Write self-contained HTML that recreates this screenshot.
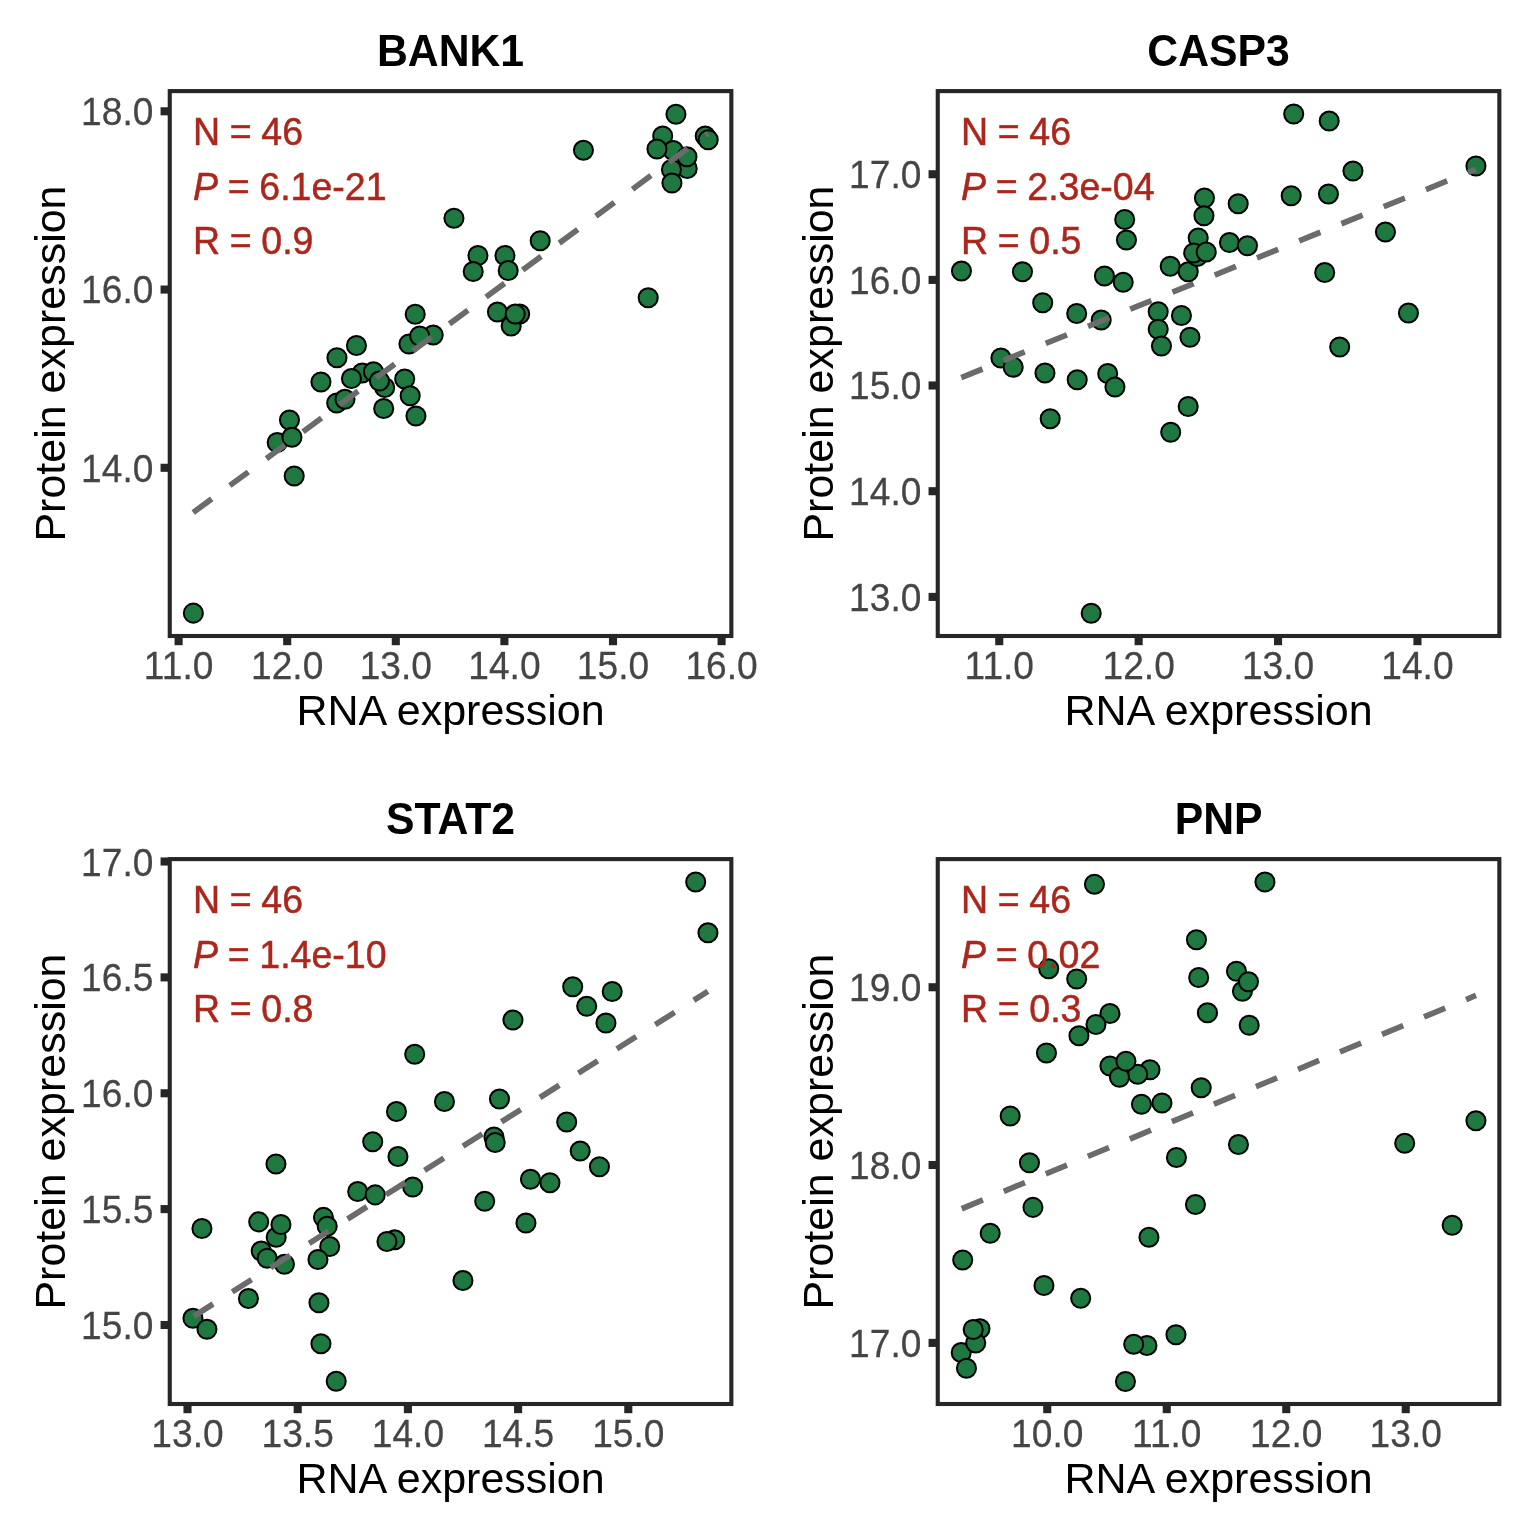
<!DOCTYPE html>
<html lang="en"><head><meta charset="utf-8"><title>RNA vs protein expression</title>
<style>
html,body{margin:0;padding:0;background:#fff;}
body{width:1536px;height:1536px;overflow:hidden;}
svg{display:block;font-family:"Liberation Sans",sans-serif;}
.tk{font-size:39.1px;fill:#454545;stroke:#454545;stroke-width:0.25px;}
.ax{font-size:43.0px;fill:#000;}
.ti{font-size:44.5px;font-weight:bold;fill:#000;}
.an{font-size:39.1px;fill:#ab271c;stroke:#ab271c;stroke-width:0.5px;word-spacing:-0.8px;}
.pt{fill:#1e7840;stroke:#000;stroke-width:2.0;}
.fit{stroke:#6b6b6b;stroke-width:5.7;fill:none;}
.fr{fill:none;stroke:#262626;stroke-width:4.1;}
.tick{stroke:#262626;stroke-width:8.1;}
</style></head><body>
<svg width="1536" height="1536" viewBox="0 0 1536 1536">
<rect width="1536" height="1536" fill="#ffffff"/>
<g>
<g class="pt">
<circle cx="193.35" cy="613.15" r="9.55"/>
<circle cx="277.2" cy="442.45" r="9.55"/>
<circle cx="289.45" cy="419.95" r="9.55"/>
<circle cx="291.95" cy="437.2" r="9.55"/>
<circle cx="294.2" cy="475.95" r="9.55"/>
<circle cx="320.95" cy="381.95" r="9.55"/>
<circle cx="336.7" cy="402.95" r="9.55"/>
<circle cx="336.95" cy="357.7" r="9.55"/>
<circle cx="344.95" cy="399.2" r="9.55"/>
<circle cx="356.45" cy="345.45" r="9.55"/>
<circle cx="362.2" cy="372.95" r="9.55"/>
<circle cx="351.45" cy="378.45" r="9.55"/>
<circle cx="373.45" cy="371.7" r="9.55"/>
<circle cx="384.7" cy="387.45" r="9.55"/>
<circle cx="379.45" cy="380.95" r="9.55"/>
<circle cx="383.7" cy="408.45" r="9.55"/>
<circle cx="404.7" cy="378.95" r="9.55"/>
<circle cx="410.2" cy="395.7" r="9.55"/>
<circle cx="415.95" cy="415.95" r="9.55"/>
<circle cx="408.95" cy="343.95" r="9.55"/>
<circle cx="433.2" cy="334.95" r="9.55"/>
<circle cx="419.7" cy="335.95" r="9.55"/>
<circle cx="415.2" cy="314.2" r="9.55"/>
<circle cx="453.95" cy="218.2" r="9.55"/>
<circle cx="477.95" cy="255.45" r="9.55"/>
<circle cx="473.2" cy="271.45" r="9.55"/>
<circle cx="504.95" cy="255.45" r="9.55"/>
<circle cx="508.2" cy="270.45" r="9.55"/>
<circle cx="540.2" cy="240.7" r="9.55"/>
<circle cx="497.45" cy="311.95" r="9.55"/>
<circle cx="511.2" cy="325.95" r="9.55"/>
<circle cx="519.7" cy="313.95" r="9.55"/>
<circle cx="515.2" cy="313.95" r="9.55"/>
<circle cx="583.45" cy="150.2" r="9.55"/>
<circle cx="648.2" cy="297.7" r="9.55"/>
<circle cx="675.95" cy="114.2" r="9.55"/>
<circle cx="662.7" cy="135.95" r="9.55"/>
<circle cx="673.2" cy="150.45" r="9.55"/>
<circle cx="656.95" cy="148.95" r="9.55"/>
<circle cx="687.2" cy="168.45" r="9.55"/>
<circle cx="686.95" cy="156.7" r="9.55"/>
<circle cx="671.45" cy="169.45" r="9.55"/>
<circle cx="671.95" cy="182.95" r="9.55"/>
<circle cx="705.2" cy="135.95" r="9.55"/>
<circle cx="708.2" cy="139.7" r="9.55"/>
</g>
<line class="fit" stroke-dasharray="23.0 22.45" x1="193.2" y1="512.5" x2="708" y2="133.6"/>
<text class="an" transform="translate(193 144.5) scale(0.96 1)">N = 46</text>
<text class="an" transform="translate(193 199.9) scale(0.96 1)"><tspan font-style="italic">P</tspan> = 6.1e-21</text>
<text class="an" transform="translate(193 254.3) scale(0.96 1)">R = 0.9</text>
<rect class="fr" x="169.75" y="91.1" width="561.6" height="544.9"/>
<g class="tick">
<line x1="178.6" y1="636" x2="178.6" y2="645.2"/>
<line x1="287.2" y1="636" x2="287.2" y2="645.2"/>
<line x1="395.8" y1="636" x2="395.8" y2="645.2"/>
<line x1="504.4" y1="636" x2="504.4" y2="645.2"/>
<line x1="613" y1="636" x2="613" y2="645.2"/>
<line x1="721.6" y1="636" x2="721.6" y2="645.2"/>
<line x1="160.55" y1="111.3" x2="169.75" y2="111.3"/>
<line x1="160.55" y1="289.55" x2="169.75" y2="289.55"/>
<line x1="160.55" y1="467.8" x2="169.75" y2="467.8"/>
</g>
<g>
<text class="tk" transform="translate(178.6 678.6) scale(0.95 1)" text-anchor="middle">11.0</text>
<text class="tk" transform="translate(287.2 678.6) scale(0.95 1)" text-anchor="middle">12.0</text>
<text class="tk" transform="translate(395.8 678.6) scale(0.95 1)" text-anchor="middle">13.0</text>
<text class="tk" transform="translate(504.4 678.6) scale(0.95 1)" text-anchor="middle">14.0</text>
<text class="tk" transform="translate(613 678.6) scale(0.95 1)" text-anchor="middle">15.0</text>
<text class="tk" transform="translate(721.6 678.6) scale(0.95 1)" text-anchor="middle">16.0</text>
<text class="tk" transform="translate(153.4 125) scale(0.95 1)" text-anchor="end">18.0</text>
<text class="tk" transform="translate(153.4 302.85) scale(0.95 1)" text-anchor="end">16.0</text>
<text class="tk" transform="translate(153.4 481.5) scale(0.95 1)" text-anchor="end">14.0</text>
</g>
<text class="ti" transform="translate(450.55 65.8) scale(0.96 1)" text-anchor="middle">BANK1</text>
<text class="ax" transform="translate(450.55 724.5)" text-anchor="middle">RNA expression</text>
<text class="ax" transform="translate(65 363.55) rotate(-90)" text-anchor="middle">Protein expression</text>
</g>
<g>
<g class="pt">
<circle cx="961.45" cy="270.95" r="9.55"/>
<circle cx="1022.45" cy="271.7" r="9.55"/>
<circle cx="1042.7" cy="302.7" r="9.55"/>
<circle cx="1076.7" cy="313.45" r="9.55"/>
<circle cx="1101.2" cy="319.95" r="9.55"/>
<circle cx="1104.45" cy="275.95" r="9.55"/>
<circle cx="1123.2" cy="282.2" r="9.55"/>
<circle cx="1124.7" cy="219.45" r="9.55"/>
<circle cx="1126.45" cy="239.95" r="9.55"/>
<circle cx="1000.95" cy="357.95" r="9.55"/>
<circle cx="1013.2" cy="367.2" r="9.55"/>
<circle cx="1044.95" cy="372.95" r="9.55"/>
<circle cx="1077.2" cy="379.7" r="9.55"/>
<circle cx="1107.7" cy="373.45" r="9.55"/>
<circle cx="1114.95" cy="386.95" r="9.55"/>
<circle cx="1050.2" cy="418.7" r="9.55"/>
<circle cx="1158.2" cy="311.7" r="9.55"/>
<circle cx="1158.2" cy="329.2" r="9.55"/>
<circle cx="1161.45" cy="345.95" r="9.55"/>
<circle cx="1181.45" cy="315.45" r="9.55"/>
<circle cx="1189.95" cy="337.2" r="9.55"/>
<circle cx="1170.2" cy="266.2" r="9.55"/>
<circle cx="1188.2" cy="271.7" r="9.55"/>
<circle cx="1198.2" cy="237.95" r="9.55"/>
<circle cx="1197.2" cy="256.45" r="9.55"/>
<circle cx="1193.7" cy="252.95" r="9.55"/>
<circle cx="1206.2" cy="251.95" r="9.55"/>
<circle cx="1204.45" cy="197.95" r="9.55"/>
<circle cx="1203.95" cy="215.7" r="9.55"/>
<circle cx="1238.2" cy="203.7" r="9.55"/>
<circle cx="1229.45" cy="242.45" r="9.55"/>
<circle cx="1247.45" cy="245.7" r="9.55"/>
<circle cx="1293.7" cy="113.95" r="9.55"/>
<circle cx="1291.2" cy="195.7" r="9.55"/>
<circle cx="1188.2" cy="406.45" r="9.55"/>
<circle cx="1170.7" cy="432.2" r="9.55"/>
<circle cx="1329.2" cy="120.95" r="9.55"/>
<circle cx="1352.95" cy="170.95" r="9.55"/>
<circle cx="1475.95" cy="165.95" r="9.55"/>
<circle cx="1328.45" cy="193.95" r="9.55"/>
<circle cx="1385.45" cy="231.95" r="9.55"/>
<circle cx="1324.7" cy="272.45" r="9.55"/>
<circle cx="1408.45" cy="312.95" r="9.55"/>
<circle cx="1339.7" cy="346.95" r="9.55"/>
<circle cx="1091.2" cy="613.2" r="9.55"/>
</g>
<line class="fit" stroke-dasharray="22.9 22.67" x1="961.25" y1="377.6" x2="1475.75" y2="169.4"/>
<text class="an" transform="translate(961 144.5) scale(0.96 1)">N = 46</text>
<text class="an" transform="translate(961 199.9) scale(0.96 1)"><tspan font-style="italic">P</tspan> = 2.3e-04</text>
<text class="an" transform="translate(961 254.3) scale(0.96 1)">R = 0.5</text>
<rect class="fr" x="937.75" y="91.1" width="561.6" height="544.9"/>
<g class="tick">
<line x1="999.25" y1="636" x2="999.25" y2="645.2"/>
<line x1="1138.65" y1="636" x2="1138.65" y2="645.2"/>
<line x1="1278.05" y1="636" x2="1278.05" y2="645.2"/>
<line x1="1417.45" y1="636" x2="1417.45" y2="645.2"/>
<line x1="928.55" y1="174.25" x2="937.75" y2="174.25"/>
<line x1="928.55" y1="279.9" x2="937.75" y2="279.9"/>
<line x1="928.55" y1="385.5" x2="937.75" y2="385.5"/>
<line x1="928.55" y1="491.2" x2="937.75" y2="491.2"/>
<line x1="928.55" y1="596.9" x2="937.75" y2="596.9"/>
</g>
<g>
<text class="tk" transform="translate(999.25 678.6) scale(0.95 1)" text-anchor="middle">11.0</text>
<text class="tk" transform="translate(1138.65 678.6) scale(0.95 1)" text-anchor="middle">12.0</text>
<text class="tk" transform="translate(1278.05 678.6) scale(0.95 1)" text-anchor="middle">13.0</text>
<text class="tk" transform="translate(1417.45 678.6) scale(0.95 1)" text-anchor="middle">14.0</text>
<text class="tk" transform="translate(921.4 187.95) scale(0.95 1)" text-anchor="end">17.0</text>
<text class="tk" transform="translate(921.4 293.6) scale(0.95 1)" text-anchor="end">16.0</text>
<text class="tk" transform="translate(921.4 399.2) scale(0.95 1)" text-anchor="end">15.0</text>
<text class="tk" transform="translate(921.4 504.9) scale(0.95 1)" text-anchor="end">14.0</text>
<text class="tk" transform="translate(921.4 610.6) scale(0.95 1)" text-anchor="end">13.0</text>
</g>
<text class="ti" transform="translate(1218.55 65.8) scale(0.96 1)" text-anchor="middle">CASP3</text>
<text class="ax" transform="translate(1218.55 724.5)" text-anchor="middle">RNA expression</text>
<text class="ax" transform="translate(833 363.55) rotate(-90)" text-anchor="middle">Protein expression</text>
</g>
<g>
<g class="pt">
<circle cx="512.95" cy="1019.95" r="9.55"/>
<circle cx="414.7" cy="1054.2" r="9.55"/>
<circle cx="444.45" cy="1101.45" r="9.55"/>
<circle cx="499.45" cy="1098.95" r="9.55"/>
<circle cx="396.45" cy="1111.45" r="9.55"/>
<circle cx="372.7" cy="1141.7" r="9.55"/>
<circle cx="397.95" cy="1156.55" r="9.55"/>
<circle cx="275.95" cy="1164.05" r="9.55"/>
<circle cx="493.95" cy="1136.95" r="9.55"/>
<circle cx="495.2" cy="1142.45" r="9.55"/>
<circle cx="412.7" cy="1187.05" r="9.55"/>
<circle cx="357.7" cy="1191.55" r="9.55"/>
<circle cx="375.2" cy="1194.85" r="9.55"/>
<circle cx="484.7" cy="1201.2" r="9.55"/>
<circle cx="530.45" cy="1179.2" r="9.55"/>
<circle cx="525.95" cy="1222.95" r="9.55"/>
<circle cx="201.95" cy="1228.55" r="9.55"/>
<circle cx="258.7" cy="1221.85" r="9.55"/>
<circle cx="276.2" cy="1237.2" r="9.55"/>
<circle cx="280.95" cy="1224.45" r="9.55"/>
<circle cx="323.45" cy="1217.35" r="9.55"/>
<circle cx="327.2" cy="1226.2" r="9.55"/>
<circle cx="261.2" cy="1250.95" r="9.55"/>
<circle cx="267.2" cy="1258.2" r="9.55"/>
<circle cx="284.45" cy="1264.2" r="9.55"/>
<circle cx="329.7" cy="1246.45" r="9.55"/>
<circle cx="317.95" cy="1259.45" r="9.55"/>
<circle cx="394.7" cy="1239.7" r="9.55"/>
<circle cx="386.95" cy="1241.45" r="9.55"/>
<circle cx="462.95" cy="1280.45" r="9.55"/>
<circle cx="248.45" cy="1298.45" r="9.55"/>
<circle cx="318.95" cy="1302.7" r="9.55"/>
<circle cx="192.95" cy="1318.2" r="9.55"/>
<circle cx="206.95" cy="1329.2" r="9.55"/>
<circle cx="320.95" cy="1343.7" r="9.55"/>
<circle cx="336.2" cy="1381.2" r="9.55"/>
<circle cx="549.95" cy="1182.7" r="9.55"/>
<circle cx="695.7" cy="881.95" r="9.55"/>
<circle cx="707.95" cy="932.7" r="9.55"/>
<circle cx="572.7" cy="986.7" r="9.55"/>
<circle cx="612.2" cy="991.45" r="9.55"/>
<circle cx="586.7" cy="1006.2" r="9.55"/>
<circle cx="605.95" cy="1022.95" r="9.55"/>
<circle cx="566.7" cy="1121.95" r="9.55"/>
<circle cx="580.2" cy="1150.95" r="9.55"/>
<circle cx="599.45" cy="1166.7" r="9.55"/>
</g>
<line class="fit" stroke-dasharray="22.9 22.6" x1="193.75" y1="1316.25" x2="707.9" y2="991.3"/>
<text class="an" transform="translate(193 912.5) scale(0.96 1)">N = 46</text>
<text class="an" transform="translate(193 967.9) scale(0.96 1)"><tspan font-style="italic">P</tspan> = 1.4e-10</text>
<text class="an" transform="translate(193 1022.3) scale(0.96 1)">R = 0.8</text>
<rect class="fr" x="169.75" y="859.1" width="561.6" height="544.9"/>
<g class="tick">
<line x1="187.5" y1="1404" x2="187.5" y2="1413.2"/>
<line x1="297.7" y1="1404" x2="297.7" y2="1413.2"/>
<line x1="407.9" y1="1404" x2="407.9" y2="1413.2"/>
<line x1="518.1" y1="1404" x2="518.1" y2="1413.2"/>
<line x1="628.3" y1="1404" x2="628.3" y2="1413.2"/>
<line x1="160.55" y1="861.5" x2="169.75" y2="861.5"/>
<line x1="160.55" y1="977.4" x2="169.75" y2="977.4"/>
<line x1="160.55" y1="1093.28" x2="169.75" y2="1093.28"/>
<line x1="160.55" y1="1209.1" x2="169.75" y2="1209.1"/>
<line x1="160.55" y1="1325" x2="169.75" y2="1325"/>
</g>
<g>
<text class="tk" transform="translate(187.5 1446.6) scale(0.95 1)" text-anchor="middle">13.0</text>
<text class="tk" transform="translate(297.7 1446.6) scale(0.95 1)" text-anchor="middle">13.5</text>
<text class="tk" transform="translate(407.9 1446.6) scale(0.95 1)" text-anchor="middle">14.0</text>
<text class="tk" transform="translate(518.1 1446.6) scale(0.95 1)" text-anchor="middle">14.5</text>
<text class="tk" transform="translate(628.3 1446.6) scale(0.95 1)" text-anchor="middle">15.0</text>
<text class="tk" transform="translate(153.4 876.1) scale(0.95 1)" text-anchor="end">17.0</text>
<text class="tk" transform="translate(153.4 991.1) scale(0.95 1)" text-anchor="end">16.5</text>
<text class="tk" transform="translate(153.4 1106.98) scale(0.95 1)" text-anchor="end">16.0</text>
<text class="tk" transform="translate(153.4 1222.8) scale(0.95 1)" text-anchor="end">15.5</text>
<text class="tk" transform="translate(153.4 1338.7) scale(0.95 1)" text-anchor="end">15.0</text>
</g>
<text class="ti" transform="translate(450.55 833.8) scale(0.96 1)" text-anchor="middle">STAT2</text>
<text class="ax" transform="translate(450.55 1492.5)" text-anchor="middle">RNA expression</text>
<text class="ax" transform="translate(65 1131.55) rotate(-90)" text-anchor="middle">Protein expression</text>
</g>
<g>
<g class="pt">
<circle cx="1094.45" cy="884.2" r="9.55"/>
<circle cx="1264.95" cy="881.95" r="9.55"/>
<circle cx="1196.45" cy="939.7" r="9.55"/>
<circle cx="1048.7" cy="968.7" r="9.55"/>
<circle cx="1076.7" cy="978.95" r="9.55"/>
<circle cx="1198.7" cy="977.45" r="9.55"/>
<circle cx="1236.45" cy="971.2" r="9.55"/>
<circle cx="1242.45" cy="991.2" r="9.55"/>
<circle cx="1248.45" cy="981.7" r="9.55"/>
<circle cx="1207.45" cy="1012.7" r="9.55"/>
<circle cx="1249.2" cy="1025.2" r="9.55"/>
<circle cx="1109.95" cy="1013.45" r="9.55"/>
<circle cx="1078.95" cy="1035.7" r="9.55"/>
<circle cx="1095.95" cy="1024.45" r="9.55"/>
<circle cx="1046.45" cy="1052.95" r="9.55"/>
<circle cx="1109.95" cy="1065.95" r="9.55"/>
<circle cx="1149.95" cy="1069.7" r="9.55"/>
<circle cx="1137.7" cy="1074.2" r="9.55"/>
<circle cx="1119.45" cy="1077.2" r="9.55"/>
<circle cx="1125.95" cy="1061.2" r="9.55"/>
<circle cx="1141.45" cy="1104.2" r="9.55"/>
<circle cx="1161.95" cy="1102.95" r="9.55"/>
<circle cx="1201.2" cy="1087.7" r="9.55"/>
<circle cx="1010.2" cy="1115.95" r="9.55"/>
<circle cx="1029.45" cy="1162.7" r="9.55"/>
<circle cx="1176.45" cy="1157.45" r="9.55"/>
<circle cx="1238.45" cy="1144.45" r="9.55"/>
<circle cx="1032.95" cy="1207.35" r="9.55"/>
<circle cx="1195.45" cy="1204.55" r="9.55"/>
<circle cx="990.2" cy="1233.2" r="9.55"/>
<circle cx="1148.95" cy="1237.2" r="9.55"/>
<circle cx="962.7" cy="1259.95" r="9.55"/>
<circle cx="1043.95" cy="1285.45" r="9.55"/>
<circle cx="1080.7" cy="1298.2" r="9.55"/>
<circle cx="979.95" cy="1328.7" r="9.55"/>
<circle cx="961.2" cy="1352.45" r="9.55"/>
<circle cx="975.7" cy="1342.95" r="9.55"/>
<circle cx="973.2" cy="1329.45" r="9.55"/>
<circle cx="966.45" cy="1368.2" r="9.55"/>
<circle cx="1146.95" cy="1345.45" r="9.55"/>
<circle cx="1133.7" cy="1344.2" r="9.55"/>
<circle cx="1175.95" cy="1334.7" r="9.55"/>
<circle cx="1125.45" cy="1381.45" r="9.55"/>
<circle cx="1475.95" cy="1120.7" r="9.55"/>
<circle cx="1404.7" cy="1143.2" r="9.55"/>
<circle cx="1452.2" cy="1225.2" r="9.55"/>
</g>
<line class="fit" stroke-dasharray="22.9 22.6" x1="961.75" y1="1208.75" x2="1476" y2="995.4"/>
<text class="an" transform="translate(961 912.5) scale(0.96 1)">N = 46</text>
<text class="an" transform="translate(961 967.9) scale(0.96 1)"><tspan font-style="italic">P</tspan> = 0.02</text>
<text class="an" transform="translate(961 1022.3) scale(0.96 1)">R = 0.3</text>
<rect class="fr" x="937.75" y="859.1" width="561.6" height="544.9"/>
<g class="tick">
<line x1="1047.25" y1="1404" x2="1047.25" y2="1413.2"/>
<line x1="1166.75" y1="1404" x2="1166.75" y2="1413.2"/>
<line x1="1286.25" y1="1404" x2="1286.25" y2="1413.2"/>
<line x1="1405.75" y1="1404" x2="1405.75" y2="1413.2"/>
<line x1="928.55" y1="987.25" x2="937.75" y2="987.25"/>
<line x1="928.55" y1="1165" x2="937.75" y2="1165"/>
<line x1="928.55" y1="1342.9" x2="937.75" y2="1342.9"/>
</g>
<g>
<text class="tk" transform="translate(1047.25 1446.6) scale(0.95 1)" text-anchor="middle">10.0</text>
<text class="tk" transform="translate(1166.75 1446.6) scale(0.95 1)" text-anchor="middle">11.0</text>
<text class="tk" transform="translate(1286.25 1446.6) scale(0.95 1)" text-anchor="middle">12.0</text>
<text class="tk" transform="translate(1405.75 1446.6) scale(0.95 1)" text-anchor="middle">13.0</text>
<text class="tk" transform="translate(921.4 1000.95) scale(0.95 1)" text-anchor="end">19.0</text>
<text class="tk" transform="translate(921.4 1178.7) scale(0.95 1)" text-anchor="end">18.0</text>
<text class="tk" transform="translate(921.4 1356.6) scale(0.95 1)" text-anchor="end">17.0</text>
</g>
<text class="ti" transform="translate(1218.55 833.8) scale(0.96 1)" text-anchor="middle">PNP</text>
<text class="ax" transform="translate(1218.55 1492.5)" text-anchor="middle">RNA expression</text>
<text class="ax" transform="translate(833 1131.55) rotate(-90)" text-anchor="middle">Protein expression</text>
</g>
</svg></body></html>
